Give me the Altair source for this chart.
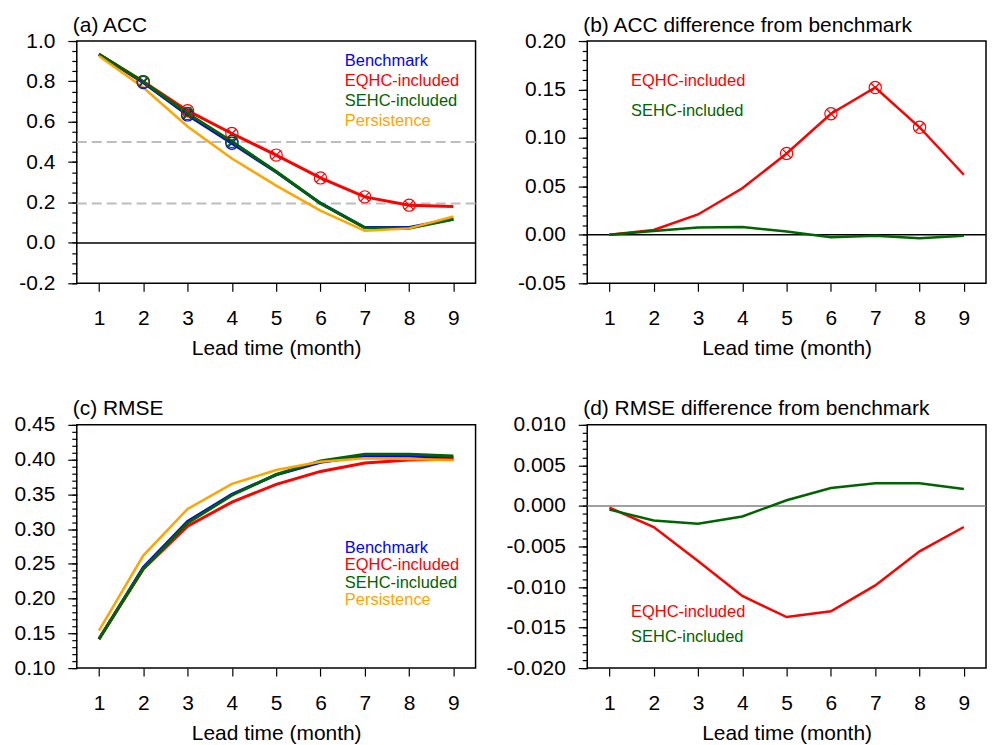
import altair as alt
import pandas as pd

FONT = "Liberation Sans"

# ---------------- data ----------------
lead = [1, 2, 3, 4, 5, 6, 7, 8, 9]
series_names = ["Benchmark", "EQHC-included", "SEHC-included", "Persistence"]
series_colors = ["#0000ff", "#ff0000", "#006400", "#ffa500"]

# (a) ACC
acc_benchmark = [0.934, 0.794, 0.634, 0.494, 0.351, 0.197, 0.076, 0.076, 0.118]
acc_eqhc = [0.934, 0.799, 0.655, 0.542, 0.435, 0.322, 0.228, 0.187, 0.180]
acc_sehc = [0.934, 0.798, 0.641, 0.502, 0.354, 0.195, 0.075, 0.073, 0.117]
acc_persistence = [0.926, 0.770, 0.577, 0.418, 0.284, 0.160, 0.060, 0.072, 0.131]
acc_sig_benchmark = [2, 3, 4]
acc_sig_eqhc = [2, 3, 4, 5, 6, 7, 8]
acc_sig_sehc = [2, 3, 4]
acc_sig_persistence = []
acc_thresholds = [0.5, 0.195]

# (b) ACC difference from benchmark
accdiff_eqhc = [0.000, 0.005, 0.021, 0.048, 0.084, 0.125, 0.152, 0.111, 0.062]
accdiff_sehc = [0.000, 0.004, 0.0075, 0.008, 0.0035, -0.0025, -0.001, -0.0035, -0.001]
accdiff_sig_eqhc = [5, 6, 7, 8]
accdiff_sig_sehc = []

# (c) RMSE
rmse_benchmark = [0.142, 0.245, 0.311, 0.350, 0.378, 0.396, 0.405, 0.405, 0.403]
rmse_eqhc = [0.1418, 0.2424, 0.3042, 0.3389, 0.3643, 0.3830, 0.3952, 0.3994, 0.4004]
rmse_sehc = [0.1415, 0.2432, 0.3088, 0.3487, 0.3787, 0.3982, 0.4078, 0.4078, 0.4051]
rmse_persistence = [0.154, 0.262, 0.329, 0.365, 0.385, 0.397, 0.402, 0.401, 0.399]

# (d) RMSE difference from benchmark
rmsediff_eqhc = [-0.0002, -0.0026, -0.0068, -0.0111, -0.0137, -0.0130, -0.0098, -0.0056, -0.0026]
rmsediff_sehc = [-0.00045, -0.0018, -0.0022, -0.0013, 0.0007, 0.0022, 0.0028, 0.0028, 0.0021]

zero_line = [0.0]

# axis ticks
acc_ticks = [-0.2, 0.0, 0.2, 0.4, 0.6, 0.8, 1.0]
accdiff_ticks = [-0.05, 0.0, 0.05, 0.10, 0.15, 0.20]
rmse_ticks = [0.10, 0.15, 0.20, 0.25, 0.30, 0.35, 0.40, 0.45]
rmsediff_ticks = [-0.020, -0.015, -0.010, -0.005, 0.0, 0.005, 0.010]

# legend text anchor positions (data units)
acc_legend_x = 6.55
acc_legend_y = [0.877, 0.778, 0.680, 0.581]
accdiff_legend_x = 1.49
accdiff_legend_y = [0.1537, 0.1228]
rmse_legend_x = 6.55
rmse_legend_y = [0.2661, 0.2408, 0.2154, 0.1901]
rmsediff_legend_x = 1.49
rmsediff_legend_y = [-0.01372, -0.0168]

X_SHAPE = "M -0.7 -0.7 L 0.7 0.7 M -0.7 0.7 L 0.7 -0.7"
LABEL_SIZE = 21
TITLE_SIZE = 21
PANEL_W = 400


def minor_ticks(lo, hi, step):
    n = int(round((hi - lo) / step))
    return [round(lo + i * step, 6) for i in range(n + 1)]


def label_expr(fmt):
    return (f"datum.value < -1e-9 ? '-' + format(-datum.value, '{fmt}') "
            f": format(abs(datum.value), '{fmt}')")


def xenc(field):
    return alt.X(f"{field}:Q",
                 scale=alt.Scale(domain=[0.5, 9.5], nice=False, zero=False),
                 axis=alt.Axis(values=lead, format="d", title="Lead time (month)",
                               tickSize=8, labelPadding=16.5, titlePadding=9,
                               domain=False, grid=False))


def make_panel(title, names, colors, widths, values, sigs, ydomain, major, minor_step,
               fmt, height, zero_color=None, dashed=None, legend_x=None, legend_y=None):
    yscale = alt.Scale(domain=ydomain, nice=False, zero=False)
    major_axis = alt.Axis(values=major, labelExpr=label_expr(fmt), tickSize=9,
                          labelPadding=13, domain=False, grid=False, title=None,
                          orient="left")
    minor_axis = alt.Axis(values=minor_ticks(ydomain[0], ydomain[1], minor_step),
                          labels=False, tickSize=5, domain=False, grid=False,
                          title=None, orient="left")
    layers = []
    if dashed:
        layers.append(
            alt.Chart(pd.DataFrame({"v": dashed}))
            .mark_rule(color="#bdbdbd", strokeWidth=2, strokeDash=[10, 5])
            .encode(y=alt.Y("v:Q", scale=yscale, axis=None))
        )
    if zero_color:
        layers.append(
            alt.Chart(pd.DataFrame({"v": zero_line}))
            .mark_rule(color=zero_color, strokeWidth=1.5)
            .encode(y=alt.Y("v:Q", scale=yscale, axis=None))
        )
    for i, (nm, col, w, vals) in enumerate(zip(names, colors, widths, values)):
        if i == 0:
            ax = major_axis
        elif i == 1:
            ax = minor_axis
        else:
            ax = None
        df = pd.DataFrame({"lead": lead, "val": vals})
        layers.append(
            alt.Chart(df)
            .mark_line(color=col, strokeWidth=w, strokeCap="butt")
            .encode(x=xenc("lead"), y=alt.Y("val:Q", scale=yscale, axis=ax))
        )
    for nm, col, vals, sig in zip(names, colors, values, sigs):
        if not sig:
            continue
        df = pd.DataFrame({"lead": lead, "val": vals})
        df = df[df["lead"].isin(sig)]
        base = alt.Chart(df).encode(x=xenc("lead"),
                                    y=alt.Y("val:Q", scale=yscale, axis=None))
        layers.append(base.mark_point(shape="circle", filled=False, size=150,
                                      strokeWidth=1.2, color=col, opacity=1))
        layers.append(base.mark_point(shape=X_SHAPE, filled=False, size=150,
                                      strokeWidth=1.2, color=col, opacity=1))
    if legend_y is not None:
        ldf = pd.DataFrame({"label": names, "lx": [legend_x] * len(names),
                            "ly": legend_y})
        layers.append(
            alt.Chart(ldf)
            .mark_text(align="left", baseline="alphabetic", font=FONT, fontSize=16.5)
            .encode(x=xenc("lx"), y=alt.Y("ly:Q", scale=yscale, axis=None),
                    text="label:N",
                    color=alt.Color("label:N",
                                    scale=alt.Scale(domain=names, range=colors),
                                    legend=None))
        )
    return (alt.layer(*layers)
            .resolve_axis(y="independent")
            .properties(width=PANEL_W, height=height,
                        title=alt.Title(title, anchor="start", frame="group",
                                        offset=-5.5, dx=-4, fontSize=TITLE_SIZE,
                                        font=FONT, fontWeight="normal",
                                        color="black")))


pa = make_panel("(a) ACC", series_names, series_colors, [3, 3, 3, 2.5],
                [acc_benchmark, acc_eqhc, acc_sehc, acc_persistence],
                [acc_sig_benchmark, acc_sig_eqhc, acc_sig_sehc, acc_sig_persistence],
                [-0.2, 1.0], acc_ticks, 0.05, ".1f", 243,
                zero_color="black", dashed=acc_thresholds,
                legend_x=acc_legend_x, legend_y=acc_legend_y)

pb = make_panel("(b) ACC difference from benchmark", series_names[1:3], series_colors[1:3],
                [2.5, 2.5], [accdiff_eqhc, accdiff_sehc],
                [accdiff_sig_eqhc, accdiff_sig_sehc],
                [-0.05, 0.20], accdiff_ticks, 0.01, ".2f", 243,
                zero_color="black",
                legend_x=accdiff_legend_x, legend_y=accdiff_legend_y)

pc = make_panel("(c) RMSE", series_names, series_colors, [3, 3, 3, 2.5],
                [rmse_benchmark, rmse_eqhc, rmse_sehc, rmse_persistence],
                [[], [], [], []],
                [0.10, 0.45], rmse_ticks, 0.01, ".2f", 244,
                legend_x=rmse_legend_x, legend_y=rmse_legend_y)

pd_ = make_panel("(d) RMSE difference from benchmark", series_names[1:3], series_colors[1:3],
                 [2.5, 2.5], [rmsediff_eqhc, rmsediff_sehc], [[], []],
                 [-0.020, 0.010], rmsediff_ticks, 0.001, ".3f", 244,
                 zero_color="#808080",
                 legend_x=rmsediff_legend_x, legend_y=rmsediff_legend_y)

chart = (
    alt.concat(pa, pb, pc, pd_, columns=2, spacing={"row": 142, "column": 112},
               bounds="flush")
    .properties(padding={"left": 5, "top": 4, "right": 0, "bottom": 0},
                background="white")
    .configure_view(stroke="black", strokeWidth=1.5)
    .configure_axis(labelFont=FONT, labelFontSize=LABEL_SIZE, labelColor="black",
                    titleFont=FONT, titleFontSize=LABEL_SIZE, titleFontWeight="normal",
                    titleColor="black", tickColor="black", tickWidth=1.2)
)

chart.save("out.html", embed_options={"renderer": "svg", "actions": False})
